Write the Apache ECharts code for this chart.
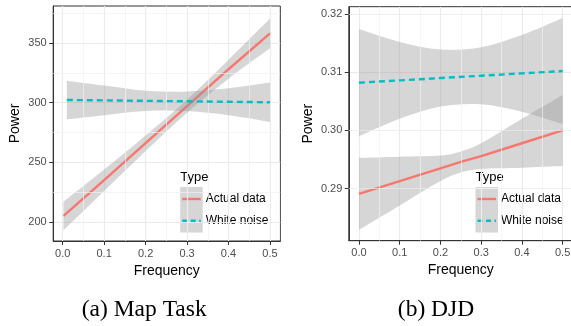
<!DOCTYPE html>
<html>
<head>
<meta charset="utf-8">
<script src="https://cdn.jsdelivr.net/npm/echarts@6/dist/echarts.min.js"></script>
<style>
  html, body { margin: 0; padding: 0; background: #fff; overflow: hidden; }
  #chart { width: 571px; height: 326px; }
</style>
</head>
<body>
<div id="chart"></div>
<script>
// tick labels / gridline positions
const xTicks = [0, 0.1, 0.2, 0.3, 0.4, 0.5];
const xMinor = [0.05, 0.15, 0.25, 0.35, 0.45];
const yTicksA = [200, 250, 300, 350];
const yMinorA = [225, 275, 325, 375];
const yTicksB = [0.29, 0.30, 0.31, 0.32];
const yMinorB = [0.285, 0.295, 0.305, 0.315];

// (a) Map Task
const aActualX = [0.002, 0.1, 0.2, 0.3, 0.4, 0.5];
const aActualFit = [205, 235, 266, 297, 328, 358];
const aActualLo = [193, 226, 259.5, 291.5, 320, 345.5];
const aActualHi = [217, 244, 272.5, 302.5, 336, 370.5];
const aNoiseX = [0.01, 0.1, 0.2, 0.3, 0.4, 0.5];
const aNoiseFit = [302.2, 301.9, 301.5, 301.1, 300.7, 300.3];
const aNoiseLo = [286, 289.5, 293, 292.9, 289.4, 283.8];
const aNoiseHi = [318.4, 314.3, 310, 309.3, 312, 316.8];

// (b) DJD
const bActualX = [0, 0.1, 0.2, 0.25, 0.3, 0.4, 0.5];
const bActualFit = [0.2891, 0.2913, 0.2935, 0.2946, 0.2956, 0.2978, 0.3000];
const bActualLo = [0.2829, 0.2871, 0.2913, 0.2928, 0.2934, 0.2936, 0.2939];
const bActualHi = [0.2953, 0.2955, 0.2957, 0.2964, 0.2978, 0.3020, 0.3061];
const bNoiseX = [0, 0.1, 0.2, 0.3, 0.4, 0.5];
const bNoiseFit = [0.3082, 0.3086, 0.3090, 0.3094, 0.3098, 0.3102];
const bNoiseLo = [0.2990, 0.3020, 0.3041, 0.3045, 0.3032, 0.3011];
const bNoiseHi = [0.3174, 0.3152, 0.3139, 0.3143, 0.3164, 0.3193];

const FONT = '"Liberation Sans", Arial, sans-serif';
const SERIF = '"Liberation Serif", "Times New Roman", serif';
const RED = '#F8766D';
const TEAL = '#00BFC4';
const BAND = 'rgba(153,153,153,0.4)';

function pairs(xs, ys) {
  return xs.map((x, i) => [x, ys[i]]);
}

// catmull-rom curve through pixel points, as path commands (no leading M)
function curveTo(pts) {
  let d = '';
  for (let i = 0; i < pts.length - 1; i++) {
    const p0 = pts[i - 1] || pts[i];
    const p1 = pts[i];
    const p2 = pts[i + 1];
    const p3 = pts[i + 2] || p2;
    const c1 = [p1[0] + (p2[0] - p0[0]) / 6, p1[1] + (p2[1] - p0[1]) / 6];
    const c2 = [p2[0] - (p3[0] - p1[0]) / 6, p2[1] - (p3[1] - p1[1]) / 6];
    d += ` C${c1[0]},${c1[1]} ${c2[0]},${c2[1]} ${p2[0]},${p2[1]}`;
  }
  return d;
}

function xAxisFor(idx, min, max) {
  return {
    type: 'value', gridIndex: idx, min: min, max: max, splitNumber: 5,
    name: 'Frequency', nameLocation: 'middle', nameGap: 21,
    nameTextStyle: { color: '#000', fontSize: 14, fontFamily: FONT },
    axisLine: { show: true, onZero: false, lineStyle: { color: '#333', width: 1 } },
    axisTick: { show: true, length: 4, lineStyle: { color: '#333' }, customValues: xTicks },
    axisLabel: { color: '#4D4D4D', fontSize: 11, fontFamily: FONT, margin: 7,
      customValues: xTicks, formatter: v => v.toFixed(1) },
    splitLine: { show: true, lineStyle: { color: '#EBEBEB', width: 1.2 } },
  };
}

function yAxisFor(idx, min, max, ticks, digits, gap) {
  return {
    type: 'value', gridIndex: idx, min: min, max: max, splitNumber: 4,
    name: 'Power', nameLocation: 'middle', nameGap: gap,
    nameTextStyle: { color: '#000', fontSize: 14, fontFamily: FONT },
    axisLine: { show: true, onZero: false, lineStyle: { color: '#333', width: 1 } },
    axisTick: { show: true, length: 4, lineStyle: { color: '#333' }, customValues: ticks },
    axisLabel: { color: '#4D4D4D', fontSize: 11, fontFamily: FONT, margin: 6.5,
      customValues: ticks, formatter: v => v.toFixed(digits) },
    splitLine: { show: true, lineStyle: { color: '#EBEBEB', width: 1.2 } },
  };
}

// confidence band drawn as one smooth closed path through the axis scales
function band(idx, xs, lo, hi, z) {
  return {
    type: 'custom', xAxisIndex: idx, yAxisIndex: idx, silent: true, z: z, clip: true,
    data: xs.map((x, i) => [x, lo[i], hi[i]]),
    encode: { x: 0, y: [1, 2] },
    renderItem(params, api) {
      if (params.dataIndex !== 0) return null;
      const top = xs.map((x, i) => api.coord([x, hi[i]]));
      const bot = xs.map((x, i) => api.coord([x, lo[i]])).reverse();
      const d = `M${top[0][0]},${top[0][1]}` + curveTo(top) +
        ` L${bot[0][0]},${bot[0][1]}` + curveTo(bot) + ' Z';
      return { type: 'path', shape: { pathData: d }, style: { fill: BAND } };
    },
  };
}

function fitLine(idx, xs, ys, color, dashed, z) {
  return { type: 'line', xAxisIndex: idx, yAxisIndex: idx, data: pairs(xs, ys),
    symbol: 'none', silent: true, z: z,
    lineStyle: { color: color, width: 2.4, type: dashed ? [6, 4] : 'solid', cap: 'butt' } };
}

function minorGrid(idx, yMinor) {
  return { type: 'line', xAxisIndex: idx, yAxisIndex: idx, data: [], silent: true, z: 1,
    markLine: { silent: true, symbol: 'none', label: { show: false },
      lineStyle: { color: '#F1F1F1', width: 0.7, type: 'solid' },
      data: xMinor.map(v => ({ xAxis: v })).concat(yMinor.map(v => ({ yAxis: v }))) } };
}

function legendBox(x0, boxW) {
  return {
    type: 'group', x: x0, y: 163, z: 100,
    children: [
      { type: 'rect', shape: { x: 0, y: 0, width: boxW, height: 77 }, style: { fill: '#fff' } },
      { type: 'text', x: 9.5, y: 14, style: { text: 'Type', fontSize: 13, fontFamily: FONT,
        fill: '#000', verticalAlign: 'middle' } },
      { type: 'rect', shape: { x: 9.5, y: 24, width: 22.5, height: 45.5 }, style: { fill: '#D6D6D6' } },
      { type: 'line', shape: { x1: 11.5, y1: 36, x2: 30, y2: 36 },
        style: { stroke: RED, lineWidth: 2.4 } },
      { type: 'line', shape: { x1: 11.5, y1: 57.7, x2: 30, y2: 57.7 },
        style: { stroke: TEAL, lineWidth: 2.4, lineDash: [5, 3.5] } },
      { type: 'text', x: 35, y: 36, style: { text: 'Actual data', fontSize: 12, fontFamily: FONT,
        fill: '#000', verticalAlign: 'middle' } },
      { type: 'text', x: 35, y: 57.7, style: { text: 'White noise', fontSize: 12, fontFamily: FONT,
        fill: '#000', verticalAlign: 'middle' } },
    ],
  };
}

const chart = echarts.init(document.getElementById('chart'), null, { renderer: 'canvas' });

chart.setOption({
  animation: false,
  backgroundColor: '#fff',
  grid: [
    { left: 53.2, top: 6, width: 227.1, height: 235, show: true, outerBoundsMode: 'none',
      borderColor: '#333', borderWidth: 1, backgroundColor: '#fff' },
    // right panel runs off the page edge, as in the original figure
    { left: 348.8, top: 6.7, width: 224, height: 234, show: true, outerBoundsMode: 'none',
      borderColor: '#333', borderWidth: 1, backgroundColor: '#fff' },
  ],
  xAxis: [xAxisFor(0, -0.0229, 0.5249), xAxisFor(1, -0.025, 0.525)],
  yAxis: [
    yAxisFor(0, 184, 381, yTicksA, 0, 31),
    yAxisFor(1, 0.28107, 0.32125, yTicksB, 2, 34),
  ],
  series: [
    minorGrid(0, yMinorA),
    band(0, aActualX, aActualLo, aActualHi, 2),
    fitLine(0, aActualX, aActualFit, RED, false, 3),
    band(0, aNoiseX, aNoiseLo, aNoiseHi, 4),
    fitLine(0, aNoiseX, aNoiseFit, TEAL, true, 5),

    minorGrid(1, yMinorB),
    band(1, bActualX, bActualLo, bActualHi, 2),
    fitLine(1, bActualX, bActualFit, RED, false, 3),
    band(1, bNoiseX, bNoiseLo, bNoiseHi, 4),
    fitLine(1, bNoiseX, bNoiseFit, TEAL, true, 5),
  ],
  graphic: [
    legendBox(170.7, 109),
    legendBox(466, 110),
    { type: 'text', x: 144.2, y: 310, z: 100, style: { text: '(a) Map Task', fontSize: 23.5,
      fontFamily: SERIF, fill: '#000', align: 'center', verticalAlign: 'middle' } },
    { type: 'text', x: 436, y: 310, z: 100, style: { text: '(b) DJD', fontSize: 23.5,
      fontFamily: SERIF, fill: '#000', align: 'center', verticalAlign: 'middle' } },
  ],
});

window.addEventListener('resize', () => { chart.resize(); });
</script>
</body>
</html>
